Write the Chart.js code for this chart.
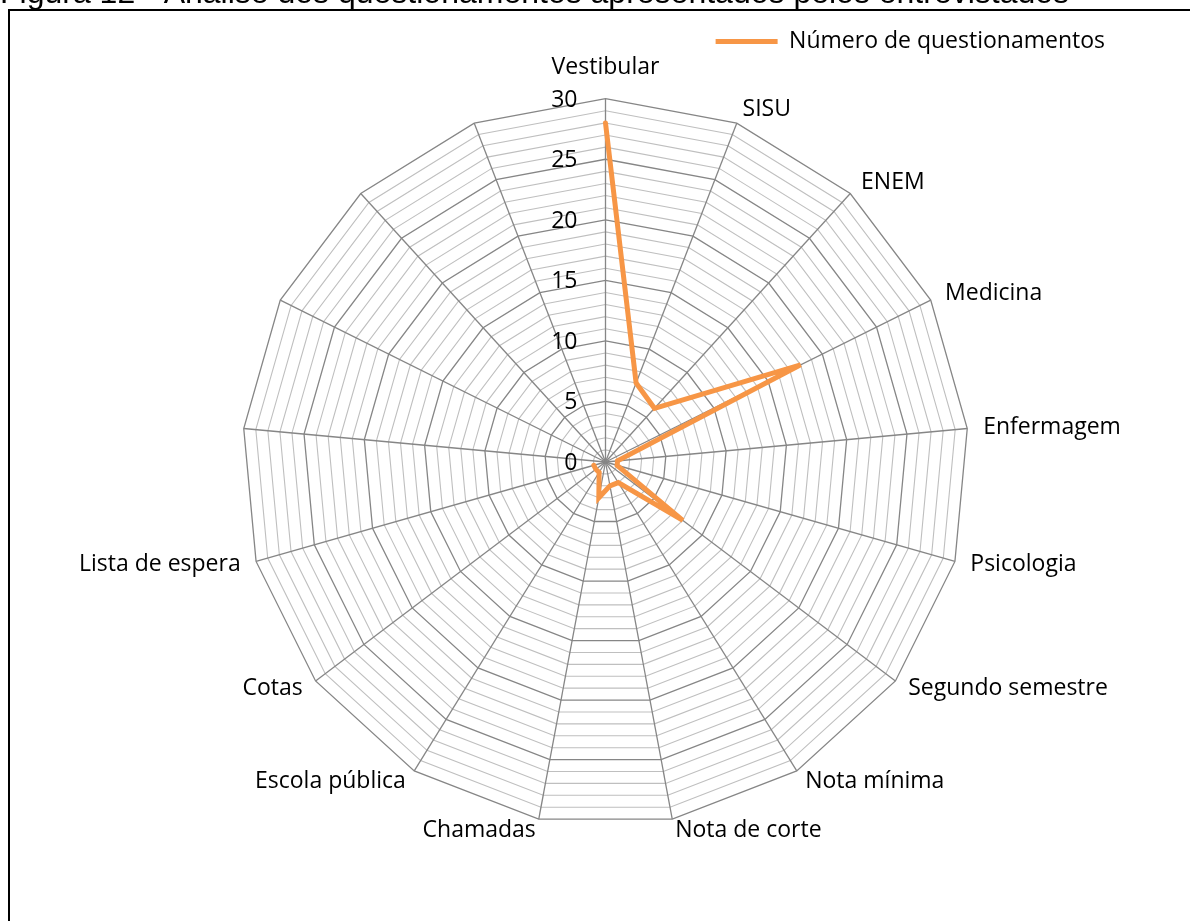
<!DOCTYPE html>
<html>
<head>
<meta charset="utf-8">
<title>Análise dos questionamentos</title>
<script src="https://cdn.jsdelivr.net/npm/chart.js@4/dist/chart.umd.min.js"></script>
<style>
  html, body { margin: 0; padding: 0; background: #ffffff; }
  #wrap { position: absolute; left: 0; top: 0; width: 1190px; height: 921px; }
</style>
</head>
<body>
<div id="wrap"><canvas id="radar"></canvas></div>
<script>
// Categories around the radar (the last four spokes carry no label and no value)
const categories = ['Vestibular', 'SISU', 'ENEM', 'Medicina', 'Enfermagem', 'Psicologia',
  'Segundo semestre', 'Nota mínima', 'Nota de corte', 'Chamadas', 'Escola pública',
  'Cotas', 'Lista de espera', '', '', '', ''];
const questionCounts = [28, 7, 6, 18, 1, 1, 8, 2, 2, 3, 1, 1, 1, null, null, null, null];
const seriesName = 'Número de questionamentos';
const tickValues = [0, 5, 10, 15, 20, 25, 30];
const figureTitle = 'Figura 12 - Análise dos questionamentos apresentados pelos entrevistados';

// Geometry of the radar area
const RADAR_CENTER_X = 605.5;
const RADAR_CENTER_Y = 462;
const RADAR_RADIUS = 363.3;
const LABEL_FONT = '23px "Open Sans"';

// Radial scale that keeps a fixed centre and radius
class FixedRadialScale extends Chart.RadialLinearScale {
  setCenterPoint() {
    this.xCenter = RADAR_CENTER_X;
    this.yCenter = RADAR_CENTER_Y;
    this.drawingArea = RADAR_RADIUS;
  }
}
FixedRadialScale.id = 'fixedRadial';
Chart.register(FixedRadialScale);

// Figure caption and frame
const framePlugin = {
  id: 'frame',
  beforeDraw(chart) {
    const ctx = chart.ctx;
    ctx.save();
    ctx.fillStyle = '#000000';
    ctx.font = '32px "Liberation Sans"';
    ctx.textAlign = 'left';
    ctx.textBaseline = 'alphabetic';
    ctx.fillText(figureTitle, 0, 3);
    ctx.fillRect(8, 9, chart.width - 8, 2);
    ctx.fillRect(8, 9, 2, chart.height - 9);
    ctx.restore();
  }
};

// Value labels left of the vertical axis, every 5 units
const axisValueLabels = {
  id: 'axisValueLabels',
  beforeDatasetsDraw(chart) {
    const s = chart.scales.r;
    const ctx = chart.ctx;
    ctx.save();
    ctx.font = LABEL_FONT;
    ctx.fillStyle = '#000000';
    ctx.textAlign = 'right';
    ctx.textBaseline = 'middle';
    tickValues.forEach(v => {
      const d = s.getDistanceFromCenterForValue(v);
      ctx.fillText(String(v), s.xCenter - 28, s.yCenter - d + 1.5);
    });
    ctx.restore();
  }
};

// Category labels placed beside each spoke tip
const categoryLabels = {
  id: 'categoryLabels',
  beforeDatasetsDraw(chart) {
    const s = chart.scales.r;
    const ctx = chart.ctx;
    ctx.save();
    ctx.font = LABEL_FONT;
    ctx.fillStyle = '#000000';
    ctx.textBaseline = 'middle';
    categories.forEach((name, i) => {
      if (!name) return;
      const a = s.getIndexAngle(i);
      const deg = a * 180 / Math.PI;
      const tip = s.getPointPosition(i, s.drawingArea);
      const sin = Math.sin(a), cos = Math.cos(a);
      let x, y;
      if (deg < 1 || deg > 359) {
        ctx.textAlign = 'center';
        x = tip.x;
        y = tip.y - 31.5;
      } else {
        ctx.textAlign = deg < 180 ? 'left' : 'right';
        x = tip.x + 16 * sin;
        y = tip.y - (cos > 0 ? 15 : 12) * cos;
      }
      ctx.fillText(name, x, y);
    });
    ctx.restore();
  }
};

new Chart(document.getElementById('radar'), {
  type: 'radar',
  data: {
    labels: categories,
    datasets: [{
      label: seriesName,
      data: questionCounts,
      borderColor: '#F79646',
      backgroundColor: '#F79646',
      borderWidth: 5,
      borderJoinStyle: 'miter',
      borderCapStyle: 'round',
      fill: false,
      spanGaps: false,
      pointRadius: 0,
      pointHoverRadius: 0,
      tension: 0
    }]
  },
  options: {
    responsive: true,
    maintainAspectRatio: false,
    animation: false,
    events: [],
    layout: { padding: { top: 20, right: 75 } },
    plugins: {
      legend: {
        display: true,
        position: 'top',
        align: 'end',
        labels: {
          usePointStyle: true,
          pointStyle: 'line',
          pointStyleWidth: 62,
          color: '#000000',
          padding: 10,
          font: { family: 'Open Sans', size: 23 }
        }
      },
      tooltip: { enabled: false }
    },
    scales: {
      r: {
        type: 'fixedRadial',
        min: 0,
        max: 30,
        startAngle: 0,
        ticks: { stepSize: 1, display: false },
        grid: {
          circular: false,
          color: c => (c.tick && c.tick.value % 5 === 0) ? '#868686' : '#BFBFBF',
          lineWidth: c => (c.tick && c.tick.value % 5 === 0) ? 1.3 : 1.1
        },
        angleLines: { display: true, color: '#868686', lineWidth: 1.3 },
        pointLabels: { display: false }
      }
    }
  },
  plugins: [framePlugin, axisValueLabels, categoryLabels]
});
</script>
</body>
</html>
